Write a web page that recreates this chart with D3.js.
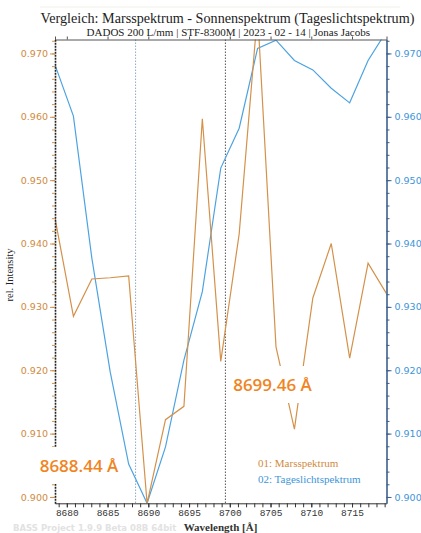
<!DOCTYPE html>
<html>
<head>
<meta charset="utf-8">
<script src="https://cdn.jsdelivr.net/npm/d3@7"></script>
<style>
  body { margin: 0; background: #fff; }
  svg { display: block; }
</style>
</head>
<body>
<div id="chart"></div>
<script>
// wavelengths [Å] shared by both spectra
const wavelengths = [8678.55, 8680.81, 8683.07, 8685.33, 8687.59, 8689.85, 8692.11,
    8694.37, 8696.63, 8698.89, 8701.15, 8703.41, 8705.67, 8707.93, 8710.19,
    8712.45, 8714.71, 8716.97, 8719.23];

// 01: Marsspektrum
const marsValues = [0.9440, 0.9285, 0.9344, 0.9346, 0.9349, 0.8990, 0.9122,
    0.9143, 0.9597, 0.9214, 0.9415, 0.9765, 0.9237, 0.9107, 0.9314,
    0.9400, 0.9219, 0.9369, 0.9321];

// 02: Tageslichtspektrum
const dayValues = [0.9682, 0.9601, 0.9377, 0.9197, 0.9052, 0.8990, 0.9079,
    0.9216, 0.9324, 0.9519, 0.9582, 0.9708, 0.9721, 0.9689, 0.9674,
    0.9645, 0.9622, 0.9689, 0.9735];

const xTicks = [8680, 8685, 8690, 8695, 8700, 8705, 8710, 8715];
const yTicks = [0.900, 0.910, 0.920, 0.930, 0.940, 0.950, 0.960, 0.970];
const markers = [8688.44, 8699.46];

const width = 421, height = 533;
const margin = { top: 39.5, right: 34.5, bottom: 29.7, left: 55 };

const orange = "#d4914a";
const orangeText = "#d08a3e";
const blue = "#4da3e2";
const blueText = "#3d95d8";
const labelOrange = "#f0851f";

const svg = d3.select("#chart").append("svg")
    .attr("width", width)
    .attr("height", height);

// shrink/grow a text's font so it spans the given width
function fitText(sel, target) {
    const size = +sel.attr("font-size");
    const len = sel.node().getComputedTextLength();
    sel.attr("font-size", size * target / len);
}

const xScale = d3.scaleLinear()
    .domain([wavelengths[0], wavelengths[wavelengths.length - 1]])
    .range([margin.left, width - margin.right]);

const yScale = d3.scaleLinear()
    .domain([0.8990, 0.9722])
    .range([height - margin.bottom, margin.top]);

svg.append("clipPath").attr("id", "plot-clip")
    .append("rect")
    .attr("x", margin.left).attr("y", margin.top)
    .attr("width", width - margin.left - margin.right)
    .attr("height", height - margin.top - margin.bottom);

// faint line at very top
svg.append("line")
    .attr("x1", 40).attr("x2", 400).attr("y1", 7).attr("y2", 7)
    .attr("stroke", "#f1f0e4").attr("stroke-width", 1);

// titles
svg.append("text")
    .attr("x", 227.5).attr("y", 23)
    .attr("text-anchor", "middle")
    .attr("font-family", "Liberation Serif, serif")
    .attr("font-size", 14)
    .attr("fill", "#222")
    .text("Vergleich: Marsspektrum - Sonnenspektrum (Tageslichtspektrum)")
    .call(fitText, 374);

svg.append("text")
    .attr("x", 228.3).attr("y", 35.5)
    .attr("text-anchor", "middle")
    .attr("font-family", "Liberation Serif, serif")
    .attr("font-size", 11)
    .attr("fill", "#222")
    .text("DADOS 200 L/mm | STF-8300M | 2023 - 02 - 14 | Jonas Jacobs")
    .call(fitText, 284);

// vertical marker lines
svg.selectAll("line.marker")
    .data(markers)
    .join("line")
    .attr("class", "marker")
    .attr("x1", d => xScale(d)).attr("x2", d => xScale(d))
    .attr("y1", margin.top).attr("y2", height - margin.bottom)
    .attr("stroke", (d, i) => i === 0 ? "#8fa9c4" : "#555")
    .attr("stroke-width", 1)
    .attr("stroke-dasharray", "1.5,1.5");

// series lines
const line = d3.line()
    .x((d, i) => xScale(wavelengths[i]))
    .y(d => yScale(d));

svg.append("g").attr("clip-path", "url(#plot-clip)")
    .selectAll("path.series")
    .data([{ values: dayValues, color: blue }, { values: marsValues, color: orange }])
    .join("path")
    .attr("class", "series")
    .attr("fill", "none")
    .attr("stroke", d => d.color)
    .attr("stroke-width", 1.2)
    .attr("d", d => line(d.values));

// top frame
svg.append("g")
    .attr("transform", `translate(0, ${margin.top})`)
    .call(d3.axisTop(xScale).tickValues(xTicks).tickSize(3).tickFormat(""))
    .call(g => g.selectAll("path, line").attr("stroke", "#555"));

// bottom axis
const xMinor = d3.range(8679, 8720, 1);
svg.append("g")
    .attr("transform", `translate(0, ${height - margin.bottom})`)
    .call(d3.axisBottom(xScale).tickValues(xMinor).tickSize(4).tickSizeOuter(0).tickFormat(""))
    .call(g => g.selectAll("path, line").attr("stroke", "#333"));

svg.append("g")
    .attr("transform", `translate(0, ${height - margin.bottom})`)
    .call(d3.axisBottom(xScale).tickValues(xTicks).tickSize(4).tickSizeOuter(0)
        .tickPadding(2).tickFormat(d3.format("d")))
    .call(g => g.select(".domain").remove())
    .call(g => g.selectAll("line").attr("stroke", "#333"))
    .call(g => g.selectAll("text")
        .attr("font-family", "Liberation Mono, monospace")
        .attr("font-size", 9.5)
        .attr("fill", "#333"));

// left axis (Mars)
const yMinor = d3.range(0.900, 0.9721, 0.002);
svg.append("g")
    .attr("transform", `translate(${margin.left}, 0)`)
    .call(d3.axisLeft(yScale).tickValues(yMinor).tickSize(3).tickSizeOuter(0).tickFormat(""))
    .call(g => g.selectAll("line").attr("stroke", orange))
    .call(g => g.select(".domain")
        .attr("stroke", "#222").attr("stroke-width", 1.6).attr("stroke-dasharray", "2,1"));

svg.append("g")
    .attr("transform", `translate(${margin.left}, 0)`)
    .call(d3.axisLeft(yScale).tickValues(yTicks).tickSize(5).tickPadding(2).tickFormat(d3.format(".3f")))
    .call(g => g.select(".domain").remove())
    .call(g => g.selectAll("line").attr("stroke", orange))
    .call(g => g.selectAll("text")
        .attr("font-family", "DejaVu Sans, sans-serif")
        .attr("font-size", 9.5)
        .attr("fill", orangeText));

// right axis (daylight)
svg.append("g")
    .attr("transform", `translate(${width - margin.right}, 0)`)
    .call(d3.axisRight(yScale).tickValues(yMinor).tickSize(3).tickSizeOuter(0).tickFormat(""))
    .call(g => g.selectAll("line").attr("stroke", "#3c5f8c"))
    .call(g => g.select(".domain").attr("stroke", "#3c5f8c").attr("stroke-width", 1.6));

svg.append("g")
    .attr("transform", `translate(${width - margin.right}, 0)`)
    .call(d3.axisRight(yScale).tickValues(yTicks).tickSize(5).tickPadding(3).tickFormat(d3.format(".3f")))
    .call(g => g.select(".domain").remove())
    .call(g => g.selectAll("line").attr("stroke", "#3c5f8c"))
    .call(g => g.selectAll("text")
        .attr("font-family", "DejaVu Sans, sans-serif")
        .attr("font-size", 9.5)
        .attr("fill", blueText));

// axis titles
svg.append("text")
    .attr("x", 220.5).attr("y", 530.5)
    .attr("text-anchor", "middle")
    .attr("font-family", "Liberation Serif, serif")
    .attr("font-weight", "bold")
    .attr("font-size", 11)
    .attr("fill", "#333")
    .text("Wavelength [Å]");

svg.append("text")
    .attr("transform", `translate(13, 275) rotate(-90)`)
    .attr("text-anchor", "middle")
    .attr("font-family", "Liberation Serif, serif")
    .attr("font-size", 10.5)
    .attr("fill", "#222")
    .text("rel. Intensity");

// wavelength labels with white background
const markerLabels = [
    { text: "8688.44 Å", x: 79, y: 466 },
    { text: "8699.46 Å", x: 272.5, y: 385 }
];
const labelG = svg.selectAll("g.mlabel")
    .data(markerLabels)
    .join("g")
    .attr("class", "mlabel");
labelG.append("rect")
    .attr("x", d => d.x - 44).attr("y", d => d.y - 19)
    .attr("width", 88).attr("height", 37)
    .attr("fill", "#fff");
labelG.append("text")
    .attr("x", d => d.x).attr("y", d => d.y + 6)
    .attr("text-anchor", "middle")
    .attr("font-family", "Open Sans, sans-serif")
    .attr("font-weight", 600)
    .attr("font-size", 17)
    .attr("fill", labelOrange)
    .text(d => d.text);

// legend
const legendItems = [
    { text: "01: Marsspektrum", color: orangeText },
    { text: "02: Tageslichtspektrum", color: blueText }
];
svg.selectAll("text.legend")
    .data(legendItems)
    .join("text")
    .attr("class", "legend")
    .attr("x", 258).attr("y", (d, i) => 467 + i * 16)
    .attr("font-family", "Liberation Serif, serif")
    .attr("font-size", 11)
    .attr("fill", d => d.color)
    .text(d => d.text);

// watermark
svg.append("text")
    .attr("x", 13).attr("y", 531)
    .attr("font-family", "DejaVu Sans, sans-serif")
    .attr("font-weight", "bold")
    .attr("font-size", 8.5)
    .attr("fill", "#e2e2e2")
    .text("BASS Project 1.9.9 Beta 08B 64bit");
</script>
</body>
</html>
